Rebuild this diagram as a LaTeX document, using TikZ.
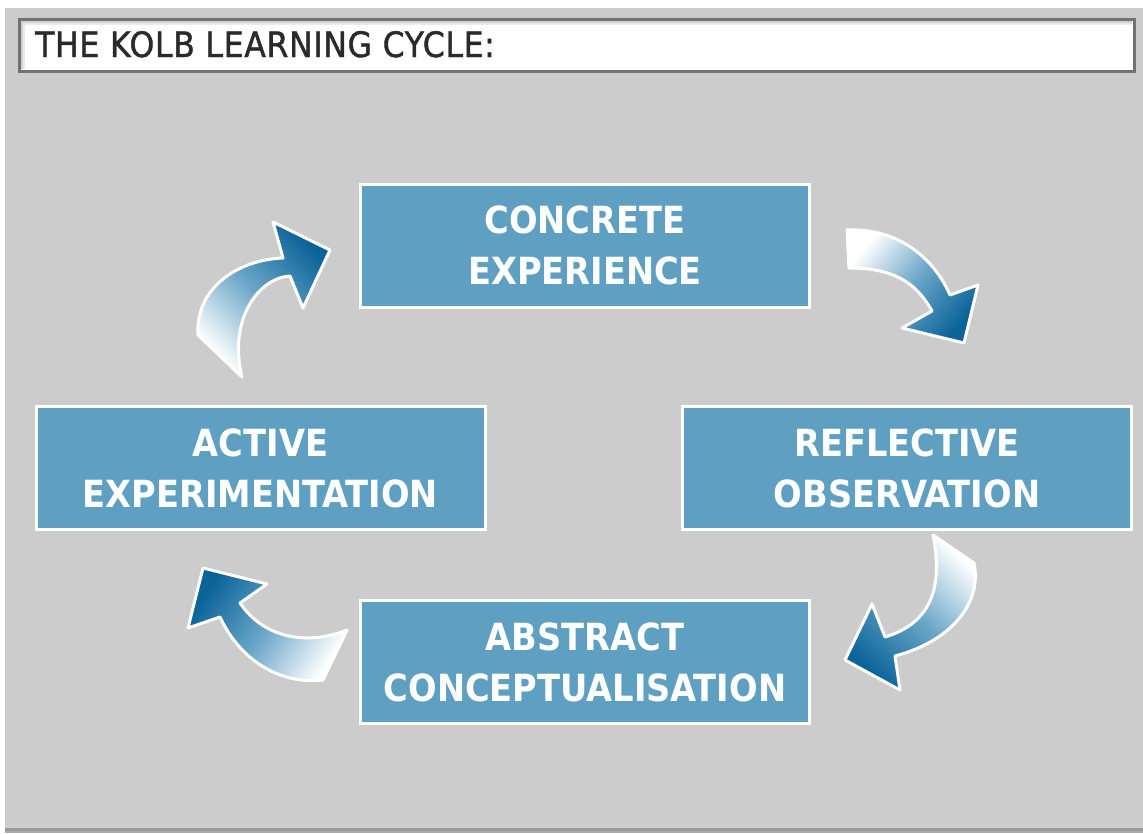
\documentclass[tikz,border=0pt]{standalone}
\usepackage{fontspec}
\setmainfont{DejaVu Sans}
\newfontfamily\condfont{DejaVu Sans Condensed}
\newfontfamily\titlefont{DejaVu Sans Condensed}[FakeBold=1.2, LetterSpace=2]
\definecolor{bgGray}{HTML}{CCCCCC}
\definecolor{boxBlue}{HTML}{5FA0C2}
\definecolor{arrDark}{HTML}{0A6399}
\definecolor{arrMid}{HTML}{6AA6C8}
\definecolor{titleBorder}{HTML}{727272}
\definecolor{titleText}{HTML}{2A2A2A}
\definecolor{bottomBand}{HTML}{9A9A9A}
\tikzset{
  stagebox/.style={draw=white, line width=3pt, fill=boxBlue, text=white,
    font={\condfont\bfseries\fontsize{37.4pt}{51pt}\selectfont},
    align=center, minimum width=449pt, minimum height=123pt, inner sep=0pt},
  cyclearrow/.style={draw=white, line width=3pt, line join=round,
    top color=white, bottom color=arrDark, middle color=arrMid}
}
\begin{document}
\begin{tikzpicture}[x=1pt,y=1pt]
\useasboundingbox (0,0) rectangle (1143,-833);
% background
\fill[white] (0,0) rectangle (1143,-833);
\fill[bgGray] (5,-8) rectangle (1143,-833);
\fill[bottomBand] (5,-828) rectangle (1143,-831);
\fill[black!33] (5,-831) rectangle (1143,-833);
% title bar
\draw[titleBorder, line width=3pt, fill=white] (19.5,-19.5) rectangle (1134.5,-71.5);
\draw[black!18, line width=2pt] (22,-69) -- (22,-22) -- (1132,-22);
\draw[black!8, line width=2pt] (24,-69) -- (24,-24) -- (1132,-24);
\node[anchor=base west, text=titleText, inner sep=0pt,
  font={\titlefont\fontsize{35pt}{40pt}\selectfont}] (title) at (35,-57) {THE KOLB LEARNING CYCLE:};
% stages
\node[stagebox] (ce) at (585,-245.5) {CONCRETE\\EXPERIENCE};
\node[stagebox] (ro) at (907,-468) {REFLECTIVE\\OBSERVATION};
\node[stagebox] (ac) at (585,-662) {ABSTRACT\\CONCEPTUALISATION};
\node[stagebox] (ae) at (260.5,-468) {ACTIVE\\EXPERIMENTATION};
% curved arrows
\shadedraw[cyclearrow, shading angle=51]
  (847,-230) .. controls (890,-228) and (930,-250) .. (950,-295) -- (978,-285) -- (964,-343)
  -- (902,-328) -- (932,-311) .. controls (915,-280) and (890,-268) .. (849,-268) -- cycle;
\shadedraw[cyclearrow, shading angle=-44]
  (933,-535) -- (974,-563) .. controls (982,-600) and (955,-640) .. (895,-656) -- (900,-690)
  -- (845,-660) -- (872,-604) -- (885,-637) .. controls (925,-625) and (945,-595) .. (933,-535) -- cycle;
\shadedraw[cyclearrow, shading angle=236]
  (347,-630) .. controls (310,-645) and (265,-640) .. (240,-603) -- (267,-584) -- (203,-568)
  -- (188,-628) -- (220,-617) .. controls (240,-660) and (280,-685) .. (323,-680) -- cycle;
\shadedraw[cyclearrow, shading angle=134]
  (242,-377) -- (198,-335) .. controls (195,-290) and (235,-260) .. (283,-258) -- (273,-222)
  -- (330,-250) -- (303,-308) -- (290,-276) .. controls (258,-278) and (228,-320) .. (242,-377) -- cycle;
\end{tikzpicture}
\end{document}
